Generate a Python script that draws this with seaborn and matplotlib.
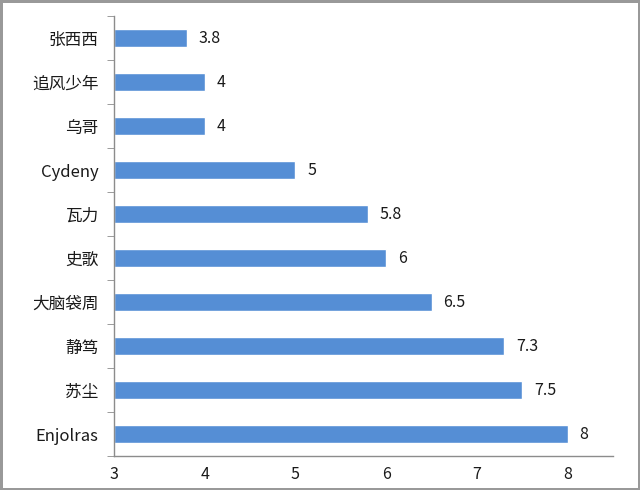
import matplotlib
matplotlib.use("Agg")
import matplotlib.pyplot as plt
import numpy as np
import pandas as pd
import seaborn as sns

# data
names = ["张西西", "追风少年", "乌哥", "Cydeny", "瓦力", "史歌", "大脑袋周", "静笃", "苏尘", "Enjolras"]
scores = [3.8, 4, 4, 5, 5.8, 6, 6.5, 7.3, 7.5, 8]
score_labels = ["3.8", "4", "4", "5", "5.8", "6", "6.5", "7.3", "7.5", "8"]

sns.set_style("white")
plt.rcParams['font.family'] = ['Noto Sans CJK SC', 'DejaVu Sans']

df = pd.DataFrame({"name": names, "score": scores})

fig = plt.figure(figsize=(6.4, 4.9), dpi=100)
fig.patch.set_edgecolor("#999999")
fig.patch.set_linewidth(2.5)
ax = fig.add_axes([0.178, 0.069, 0.78, 0.898])

sns.barplot(data=df, x="score", y="name", orient="h", color="#558ED5",
            saturation=1, width=0.4, ax=ax)

# bars start at 3, not 0: move bar left edges
for p in ax.patches:
    w = p.get_width()
    p.set_x(3)
    p.set_width(w - 3)

ax.set_xlim(3, 8.5)
ax.set_ylim(len(names) - 0.5, -0.5)
ax.set_xlabel("")
ax.set_ylabel("")

# value labels
for i, (v, lab) in enumerate(zip(scores, score_labels)):
    ax.text(v + 0.13, i, lab, va="center", ha="left", fontsize=11.5, color="#1a1a1a")

# spines and ticks
for s in ["top", "right"]:
    ax.spines[s].set_visible(False)
for s in ["left", "bottom"]:
    ax.spines[s].set_color("#8c8c8c")
    ax.spines[s].set_linewidth(1)

ax.set_xticks([3, 4, 5, 6, 7, 8])
ax.set_xticklabels(["3", "4", "5", "6", "7", "8"])
ax.tick_params(axis="x", which="major", direction="out", length=5, color="#8c8c8c",
               labelsize=11.5, labelcolor="#1a1a1a", pad=2)
ax.set_yticks(np.arange(len(names) + 1) - 0.5, minor=True)
ax.tick_params(axis="y", which="major", length=0, labelsize=12, labelcolor="#1a1a1a", pad=11)
ax.tick_params(axis="y", which="minor", direction="out", length=5, color="#8c8c8c", left=True)

fig.savefig("out.png", dpi=100, edgecolor=fig.get_edgecolor())
